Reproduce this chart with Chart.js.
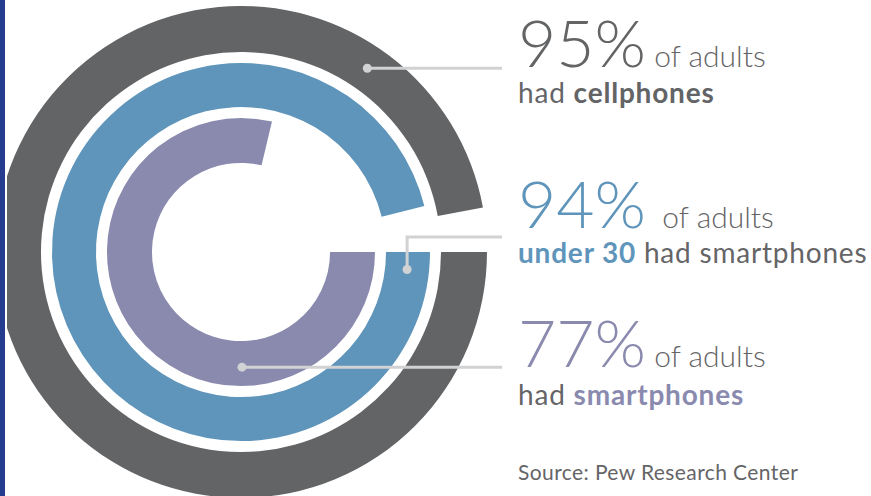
<!DOCTYPE html>
<html>
<head>
<meta charset="utf-8">
<script src="https://cdn.jsdelivr.net/npm/chart.js@4"></script>
<style>
  html, body { margin: 0; padding: 0; background: #fff; }
  #wrap { position: relative; width: 871px; height: 496px; overflow: hidden; background: #fff; font-family: Lato, "Open Sans", sans-serif; color: #656567; }
  #bar { position: absolute; left: 0; top: 0; width: 5px; height: 496px; background: #263c8e; }
  #clip { position: absolute; left: 7px; top: 0; width: 864px; height: 496px; overflow: hidden; }
  #ringBox { position: absolute; left: -12px; top: 6px; width: 520px; height: 492px; }
  .line { position: absolute; left: 518px; white-space: nowrap; line-height: 1; }
  .big { font-weight: 300; font-size: 66px; letter-spacing: 0; }
  .mid { font-size: 30px; }
  .sub { font-size: 28px; letter-spacing: 0.8px; }
  .src { font-size: 21px; letter-spacing: 0.4px; }
  b { font-weight: 700; }
</style>
</head>
<body>
<div id="wrap">
  <div id="bar"></div>
  <div id="clip">
    <div id="ringBox"><canvas id="ringChart" width="520" height="492"></canvas></div>
  </div>

  <div class="line big" style="top:9px;color:#636466">95%<span class="mid" style="color:#656567"> of adults</span></div>
  <div class="line sub" style="top:78px">had <b style="color:#636466">cellphones</b></div>

  <div class="line big" style="top:170px;color:#5f95bb">94%<span class="mid" style="color:#656567">&nbsp; of adults</span></div>
  <div class="line sub" style="top:238px"><b style="color:#5f95bb">under 30</b> had smartphones</div>

  <div class="line big" style="top:309px;color:#8a8aaf">77%<span class="mid" style="color:#656567"> of adults</span></div>
  <div class="line sub" style="top:380px">had <b style="color:#8a8aaf">smartphones</b></div>

  <div class="line src" style="top:461px">Source: Pew Research Center</div>
</div>
<script>
const labels = ["Had cellphones", "Under 30 had smartphones", "Had smartphones"];
const shares = [95, 94, 77];
const ringColors = ["#636466", "#5f95bb", "#8a8aaf"];
const ringWeights = [46, 44, 45];
const gapWeight = 11;

// where each leader dot sits on its ring: angle in degrees (0 = east, clockwise) and radial position
const dotAngles = [-55.5, 6, 89.5];
const dotRadial = [0.5, 0.5, 0.58];

// canvas origin in page coordinates (clip box at x=7, canvas at -12 inside it)
const canvasLeft = -5;
const canvasTop = 6;
const lineEndX = 502;
const elbowY = 237;

let datasets = [];
shares.forEach((v, i) => {
  if (i > 0) {
    datasets.push({
      label: "gap",
      data: [100],
      backgroundColor: ["rgba(0,0,0,0)"],
      weight: gapWeight,
    });
  }
  datasets.push({
    label: labels[i],
    data: [v, 100 - v],
    backgroundColor: [ringColors[i], "rgba(0,0,0,0)"],
    weight: ringWeights[i],
  });
});

const leaderPlugin = {
  id: "leaders",
  afterDatasetsDraw(chart) {
    const ctx = chart.ctx;
    ctx.save();
    ctx.strokeStyle = "#d1d2d4";
    ctx.fillStyle = "#d1d2d4";
    ctx.lineWidth = 3;
    let ring = 0;
    chart.data.datasets.forEach((ds, di) => {
      if (ds.label === "gap") return;
      const arc = chart.getDatasetMeta(di).data[0];
      const r = arc.innerRadius + (arc.outerRadius - arc.innerRadius) * dotRadial[ring];
      const a = (dotAngles[ring] * Math.PI) / 180;
      const x = arc.x + r * Math.cos(a);
      const y = arc.y + r * Math.sin(a);
      const endX = lineEndX - canvasLeft;
      ctx.beginPath();
      ctx.moveTo(x, y);
      if (ring === 1) {
        const ey = elbowY - canvasTop;
        ctx.lineTo(x, ey);
        ctx.lineTo(endX, ey);
      } else {
        ctx.lineTo(endX, y);
      }
      ctx.stroke();
      ctx.beginPath();
      ctx.arc(x, y, 4.5, 0, Math.PI * 2);
      ctx.fill();
      ring++;
    });
    ctx.restore();
  },
};

new Chart(document.getElementById("ringChart"), {
  type: "doughnut",
  data: { labels: ["value", "rest"], datasets: datasets },
  options: {
    responsive: false,
    animation: false,
    events: [],
    rotation: 90,
    circumference: 368,
    cutout: "36.2%",
    layout: { padding: { left: 0, right: 28, top: 0, bottom: 0 } },
    elements: {
      arc: { borderWidth: 0, hoverBorderWidth: 0, offset: 0, hoverOffset: 0 },
    },
    plugins: {
      legend: { display: false },
      tooltip: { enabled: false },
    },
  },
  plugins: [leaderPlugin],
});
</script>
</body>
</html>
